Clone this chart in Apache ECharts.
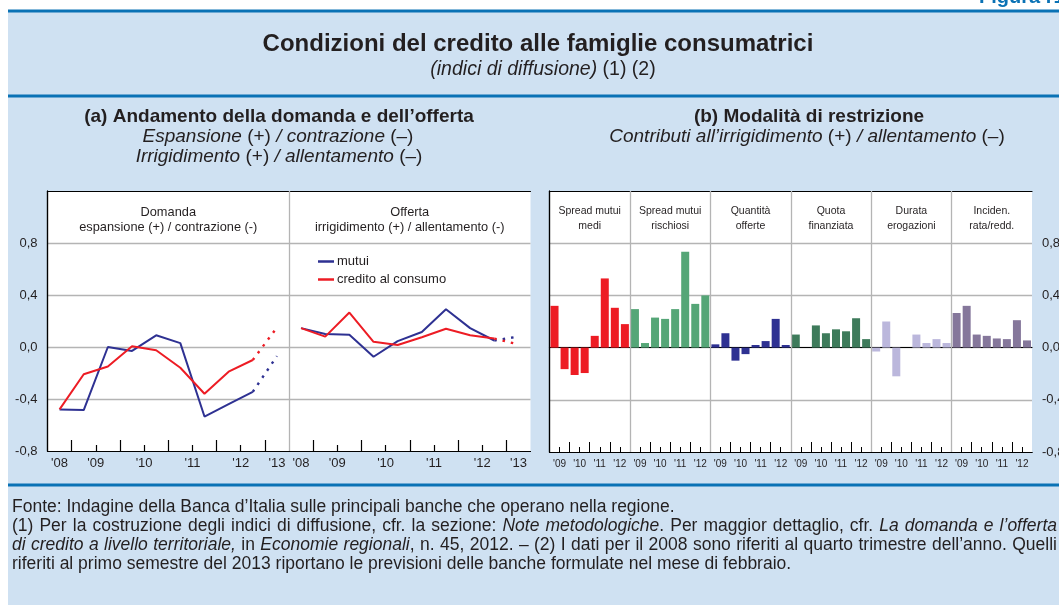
<!DOCTYPE html>
<html><head><meta charset="utf-8">
<script src="https://cdn.jsdelivr.net/npm/echarts@6/dist/echarts.min.js"></script>
<style>html,body{margin:0;padding:0;background:#fff;}#c{width:1059px;height:605px;}</style>
</head><body><div id="c"></div>
<script>
// ---------- DATA ----------
const periods = ['IV 2008','I 2009','II 2009','I 2010','II 2010','I 2011','II 2011','I 2012','II 2012','I 2013'];
const periodYears = [2008,2009,2009,2010,2010,2011,2011,2012,2012,2013];
const domandaMutui    = [-0.48,-0.485,0.00,-0.03,0.09,0.03,-0.535,-0.44,-0.345,-0.07];
const domandaCredito  = [-0.48,-0.21,-0.15,0.005,-0.025,-0.16,-0.36,-0.19,-0.10,0.15];
const offertaMutui    = [0.145,0.10,0.095,-0.075,0.045,0.115,0.29,0.145,0.05,0.08];
const offertaCredito  = [0.145,0.08,0.265,0.04,0.015,0.075,0.14,0.09,0.065,0.02];

const barPeriods = ['I 2009','II 2009','I 2010','II 2010','I 2011','II 2011','I 2012','II 2012'];
const barYears = [2009,2009,2010,2010,2011,2011,2012,2012];
const spreadMedi       = [0.32,-0.165,-0.21,-0.195,0.09,0.53,0.305,0.18];
const spreadRischiosi  = [0.295,0.035,0.23,0.22,0.295,0.735,0.335,0.40];
const quantitaOfferte  = [0.025,0.11,-0.10,-0.05,0.02,0.05,0.22,0.02];
const quotaFinanziata  = [0.10,0,0.17,0.11,0.14,0.125,0.225,0.065];
const durataErogazioni = [-0.03,0.20,-0.22,0,0.10,0.035,0.065,0.035];
const incidenzaRata    = [0.265,0.32,0.10,0.09,0.07,0.065,0.21,0.055];
const barGroupNames = ['Spread mutui\nmedi','Spread mutui\nrischiosi','Quantità\nofferte','Quota\nfinanziata','Durata\nerogazioni','Inciden.\nrata/redd.'];
const barGroupValues = [spreadMedi, spreadRischiosi, quantitaOfferte, quotaFinanziata, durataErogazioni, incidenzaRata];
const lineTitles = [['Domanda','espansione (+) / contrazione (-)'],['Offerta','irrigidimento (+) / allentamento (-)']];
const legendNames = ['mutui','credito al consumo'];
const yMin = -0.8, yMax = 1.2, yStep = 0.4;

// ---------- STYLE ----------
const FONT = "'Liberation Sans', Arial, Helvetica, sans-serif";
const TXT = '#231f20';
const BLUE = '#2e3192', RED = '#ed1c24';
const barColors = ['#ed1c24','#55a677','#2e3192','#3e7b5b','#bbb7dc','#85779b'];
const GRIDC = '#b4b4b4';
const BG = '#cfe1f2', RULE = '#0a72b5';

// ---------- helpers ----------
const yearLbl = y => "'" + String(y).slice(2);
function yearLabelMap(years, offset, map) {
  const g = {};
  years.forEach((y, i) => { (g[y] = g[y] || []).push(i); });
  Object.keys(g).forEach(y => { const idx = g[y]; const pos = offset + (idx[0] + idx[idx.length - 1]) / 2 + 0.5; map[pos.toFixed(2)] = yearLbl(+y); });
  return map;
}
function boundaryTicks(years, offset, tall, out) {
  for (let i = 1; i < years.length; i++) { const isYear = years[i] !== years[i - 1]; if (isYear === tall) out.push(offset + i); }
  return out;
}
const fmtY = v => (v > 1 ? '' : v.toFixed(1).replace('.', ',').replace('-0,0','0,0'));

const nL = periods.length;
const leftLabelMap = {}; yearLabelMap(periodYears, 0, leftLabelMap); yearLabelMap(periodYears, nL, leftLabelMap);
const leftTall = []; boundaryTicks(periodYears, 0, true, leftTall); boundaryTicks(periodYears, nL, true, leftTall);
const leftShort = []; boundaryTicks(periodYears, 0, false, leftShort); boundaryTicks(periodYears, nL, false, leftShort);
const nB = barPeriods.length, nG = barGroupValues.length;
const rightLabelMap = {}, rightTall = [], rightShort = [];
for (let g = 0; g < nG; g++) { yearLabelMap(barYears, g * nB, rightLabelMap); boundaryTicks(barYears, g * nB, true, rightTall); boundaryTicks(barYears, g * nB, false, rightShort); }

const pts = (arr, off, from, to) => arr.map((v, i) => [off + i + 0.5, v]).slice(from, to);

const GL = {left: 47.5, top: 191, width: 483, height: 260};
const GR = {left: 549.5, top: 191, width: 482.5, height: 261};

const chart = echarts.init(document.getElementById('c'), null, {renderer: 'canvas'});

function lineSeries(name, data, color, dotted) {
  return {
    type: 'line', name: name, xAxisIndex: 0, yAxisIndex: 0, data: data,
    symbol: 'none', showSymbol: false, animation: false, z: color === RED ? 4 : 3,
    lineStyle: {color: color, width: dotted ? 2.4 : 2, type: dotted ? [2.5, 6] : 'solid'},
    itemStyle: {color: color}
  };
}
const series = [];
const lineSets = [[domandaMutui, 0, BLUE, 'mutui'], [domandaCredito, 0, RED, 'credito al consumo'], [offertaMutui, nL, BLUE, 'mutui'], [offertaCredito, nL, RED, 'credito al consumo']];
lineSets.forEach(([arr, off, col, nm]) => {
  series.push(lineSeries(nm, pts(arr, off, 0, nL - 1), col, false));
  series.push(lineSeries(nm + ' (previsioni)', pts(arr, off, nL - 2, nL), col, true));
});
series[0].markLine = {symbol: 'none', silent: true, animation: false, label: {show: false},
  lineStyle: {color: GRIDC, type: 'solid', width: 1.3}, data: [{xAxis: nL}]};

barGroupValues.forEach((arr, g) => {
  const s = {
    type: 'bar', name: barGroupNames[g], xAxisIndex: 3, yAxisIndex: 2, barWidth: 8, barGap: '-100%',
    data: arr.map((v, i) => [g * nB + i + 0.5, v]), itemStyle: {color: barColors[g]}, animation: false, z: 3
  };
  if (g === 0) {
    const sep = []; for (let k = 1; k < nG; k++) sep.push({xAxis: k * nB});
    s.markLine = {symbol: 'none', silent: true, animation: false, label: {show: false},
      lineStyle: {color: GRIDC, type: 'solid', width: 1.3}, data: sep};
  }
  series.push(s);
});

const blackLine = {show: true, onZero: false, lineStyle: {color: '#000', width: 1.2}};
const noShow = {show: false};
function xAx(grid, max, opts) {
  return Object.assign({type: 'value', gridIndex: grid, min: 0, max: max, position: 'bottom',
    axisLine: blackLine, axisTick: noShow, axisLabel: noShow, splitLine: noShow}, opts);
}
const yCommon = {type: 'value', min: yMin, max: yMax, interval: yStep};

// ---------- texts ----------
const texts = [];
function T(x, y, text, font, align, rich, fill) {
  texts.push({type: 'text', x: x, y: y, silent: true, z: 10,
    style: {text: text, font: font, fill: fill || TXT, align: align || 'center', verticalAlign: 'middle', rich: rich}});
}
const ri = (sz) => ({i: {fontStyle: 'italic', fontSize: sz, fontFamily: FONT, fill: TXT}});
T(538, 44, 'Condizioni del credito alle famiglie consumatrici', 'bold 24px ' + FONT);
T(543, 70, '{i|(indici di diffusione)} (1) (2)', '19.5px ' + FONT, 'center', ri(19.5));
T(279, 117, '(a) Andamento della domanda e dell\u2019offerta', 'bold 19px ' + FONT);
T(278, 137, '{i|Espansione} (+) {i|/ contrazione} (\u2013)', '19px ' + FONT, 'center', ri(19));
T(279, 157, '{i|Irrigidimento} (+) {i|/ allentamento} (\u2013)', '19px ' + FONT, 'center', ri(19));
T(809, 117, '(b) Modalità di restrizione', 'bold 19px ' + FONT);
T(807, 137, '{i|Contributi all\u2019irrigidimento} (+) {i|/ allentamento} (\u2013)', '19px ' + FONT, 'center', ri(19));
const slotL = GL.width / (2 * nL);
lineTitles.forEach((t, k) => {
  T(GL.left + (k * nL + nL / 2) * slotL, 212, t[0], '12.8px ' + FONT);
  T(GL.left + (k * nL + nL / 2) * slotL, 227, t[1], '12.8px ' + FONT);
});
const slotR = GR.width / (nB * nG);
barGroupNames.forEach((nm, g) => {
  const parts = nm.split('\n');
  T(GR.left + (g * nB + nB / 2) * slotR, 211, parts[0], '10.5px ' + FONT);
  T(GR.left + (g * nB + nB / 2) * slotR, 226, parts[1], '10.5px ' + FONT);
});
T(979, -3, 'Figura r1', 'bold 20px ' + FONT, 'left', null, RULE);

// footer (justified lines built word by word)
const FS = 17.5;
const mctx = document.createElement('canvas').getContext('2d');
const fnt = (it) => (it ? 'italic ' : '') + FS + 'px ' + FONT;
const measure = (t, it) => { mctx.font = fnt(it); return mctx.measureText(t).width; };
function footerLine(runs, x0, x1, y, justify) {
  const words = []; let cur = [];
  runs.forEach(([txt, it]) => {
    txt.split(' ').forEach((p, k) => {
      if (k > 0) { if (cur.length) words.push(cur); cur = []; }
      if (p) cur.push([p, it]);
    });
  });
  if (cur.length) words.push(cur);
  const wW = words.map(w => w.reduce((s, [t, it]) => s + measure(t, it), 0));
  const total = wW.reduce((a, b) => a + b, 0);
  const gap = justify ? (x1 - x0 - total) / (words.length - 1) : measure(' ', false);
  let x = x0;
  words.forEach((w, i) => {
    let xx = x;
    w.forEach(([t, it]) => { T(xx, y, t, fnt(it), 'left'); xx += measure(t, it); });
    x += wW[i] + gap;
  });
}
footerLine([['Fonte: Indagine della Banca d\u2019Italia sulle principali banche che operano nella regione.', false]], 12, 1057, 507, false);
footerLine([['(1) Per la costruzione degli indici di diffusione, cfr. la sezione: ', false], ['Note metodologiche', true], ['. Per maggior dettaglio, cfr. ', false], ['La domanda e l\u2019offerta', true]], 12, 1057, 526, true);
footerLine([['di credito a livello territoriale,', true], [' in ', false], ['Economie regionali', true], [', n. 45, 2012. \u2013 (2) I dati per il 2008 sono riferiti al quarto trimestre dell\u2019anno. Quelli', false]], 12, 1057, 545, true);
footerLine([['riferiti al primo semestre del 2013 riportano le previsioni delle banche formulate nel mese di febbraio.', false]], 12, 1057, 564, false);

const graphics = [
  {type: 'rect', shape: {x: 8, y: 10, width: 1051, height: 595}, style: {fill: BG}, silent: true, z: -10},
  {type: 'rect', shape: {x: 8, y: 9.5, width: 1051, height: 3}, style: {fill: RULE}, silent: true, z: -5},
  {type: 'rect', shape: {x: 8, y: 94.5, width: 1051, height: 3}, style: {fill: RULE}, silent: true, z: -5},
  {type: 'rect', shape: {x: 8, y: 483.5, width: 1051, height: 3}, style: {fill: RULE}, silent: true, z: -5}
].concat(texts);

const option = {
  animation: false,
  textStyle: {fontFamily: FONT},
  graphic: graphics,
  legend: {
    data: legendNames, orient: 'vertical', left: 313, top: 250, itemWidth: 16, itemHeight: 2.5, itemGap: 5,
    icon: 'rect', textStyle: {fontSize: 13, color: TXT, fontFamily: FONT, padding: [0, 0, 0, -2]}, selectedMode: false
  },
  grid: [
    Object.assign({show: true, backgroundColor: '#fff', borderWidth: 0, outerBoundsMode: 'none', containLabel: false}, GL),
    Object.assign({show: true, backgroundColor: '#fff', borderWidth: 0, outerBoundsMode: 'none', containLabel: false}, GR)
  ],
  xAxis: [
    xAx(0, 2 * nL, {axisTick: {show: true, inside: true, length: 11, customValues: leftTall, lineStyle: {color: '#000', width: 1.2}},
      axisLabel: {show: true, customValues: Object.keys(leftLabelMap).map(Number), formatter: v => leftLabelMap[v.toFixed(2)] || '',
        fontSize: 13, color: TXT, margin: 6, fontFamily: FONT}}),
    xAx(0, 2 * nL, {axisTick: {show: true, inside: true, length: 6, customValues: leftShort, lineStyle: {color: '#000', width: 1.2}}}),
    xAx(0, 2 * nL, {position: 'top'}),
    xAx(1, nB * nG, {axisTick: {show: true, inside: true, length: 10, customValues: rightTall, lineStyle: {color: '#000', width: 1}},
      axisLabel: {show: true, customValues: Object.keys(rightLabelMap).map(Number), formatter: v => rightLabelMap[v.toFixed(2)] || '',
        fontSize: 10, color: TXT, margin: 7, fontFamily: FONT}}),
    xAx(1, nB * nG, {axisTick: {show: true, inside: true, length: 5, customValues: rightShort, lineStyle: {color: '#000', width: 1}}}),
    xAx(1, nB * nG, {position: 'top'}),
    xAx(1, nB * nG, {axisLine: {show: true, onZero: true, lineStyle: {color: '#000', width: 1.2}}})
  ],
  yAxis: [
    Object.assign({gridIndex: 0, position: 'left', axisLine: {show: true, lineStyle: {color: '#000', width: 1.2}}, axisTick: noShow,
      axisLabel: {formatter: fmtY, fontSize: 13, color: TXT, margin: 10, fontFamily: FONT},
      splitLine: {show: true, showMinLine: false, showMaxLine: false, lineStyle: {color: GRIDC, width: 1.3}}}, yCommon),
    Object.assign({gridIndex: 0, position: 'right', axisLine: {show: true, lineStyle: {color: '#000', width: 1.2}}, axisTick: noShow, axisLabel: noShow, splitLine: noShow}, yCommon),
    Object.assign({gridIndex: 1, position: 'right', axisLine: {show: true, lineStyle: {color: '#000', width: 1.2}}, axisTick: noShow,
      axisLabel: {formatter: fmtY, fontSize: 13, color: TXT, margin: 10, fontFamily: FONT},
      splitLine: {show: true, showMinLine: false, showMaxLine: false, lineStyle: {color: GRIDC, width: 1.3}}}, yCommon),
    Object.assign({gridIndex: 1, position: 'left', axisLine: {show: true, lineStyle: {color: '#000', width: 1.2}}, axisTick: noShow, axisLabel: noShow, splitLine: noShow}, yCommon)
  ],
  series: series
};
chart.setOption(option);
</script></body></html>
